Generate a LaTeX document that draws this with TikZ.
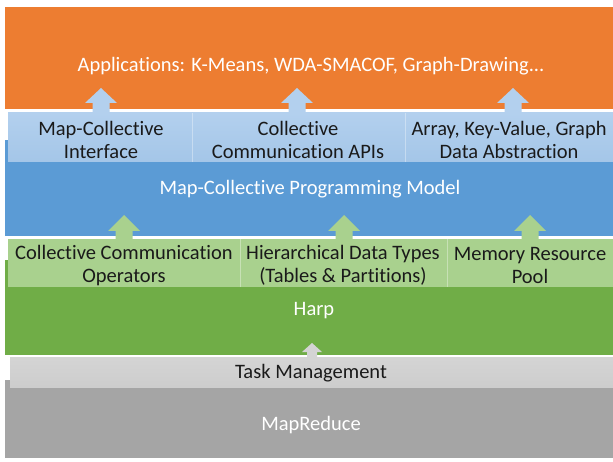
\documentclass[tikz,border=0pt]{standalone}
\usepackage{fontspec}
\setmainfont{Carlito}[Ligatures=NoCommon]
\definecolor{cOrange}{HTML}{ED7D31}
\definecolor{cBlueL}{HTML}{A4C6E8}
\definecolor{cBlueLT}{HTML}{B3D0EE}
\definecolor{cBlue}{HTML}{5B9BD5}
\definecolor{cGreenL}{HTML}{A9D18E}
\definecolor{cGreen}{HTML}{70AD47}
\definecolor{cGreyL}{HTML}{CDCDCD}
\definecolor{cGrey}{HTML}{A5A5A5}
\definecolor{cText}{HTML}{1A1A1A}
\newcommand\blockarr[7]{% x, tip y, head base y, bottom y, half head, half shaft, colour
  \fill[#7] ({#1-#5},#3) -- (#1,#2) -- ({#1+#5},#3) -- ({#1+#6},#3) -- ({#1+#6},#4)
    -- ({#1-#6},#4) -- ({#1-#6},#3) -- cycle;}
\begin{document}
\begin{tikzpicture}[x=1pt,y=-1pt,
  layer/.style={anchor=north west,inner sep=0,outer sep=0,draw=none},
  lbl/.style={font=\fontsize{20.5}{23}\selectfont,text=cText,align=center,inner sep=0},
  wlbl/.style={font=\fontsize{20.5}{23}\selectfont,text=white,align=center,inner sep=0},
  divider/.style={draw=white,opacity=0.35,line width=0.8pt}]
\useasboundingbox (0,0) rectangle (613,462);
\fill[white] (0,0) rectangle (613,462);
% layers
\node[layer,fill=cOrange,minimum width=608pt,minimum height=102pt] (apps) at (5,7) {};
\node[layer,fill=cBlue,minimum width=608pt,minimum height=96pt] (model) at (5,140) {};
\node[layer,top color=cBlueLT,bottom color=cBlueL,minimum width=605pt,minimum height=49pt] (api) at (8,113) {};
\node[layer,fill=cGreen,minimum width=608pt,minimum height=95pt] (harp) at (5,260) {};
\node[layer,fill=cGreenL,minimum width=605pt,minimum height=48pt] (ops) at (8,239) {};
\node[layer,fill=cGrey,minimum width=608pt,minimum height=78pt] (mr) at (5,380) {};
\node[layer,top color=cGreyL!85!white,bottom color=cGreyL,minimum width=603pt,minimum height=30pt] (task) at (10,357) {};
% dividers
\draw[divider] (192,113) -- (192,162);
\draw[divider] (405,113) -- (405,162);
\draw[divider] (240,239) -- (240,287);
\draw[divider] (447,239) -- (447,287);
% arrows
\blockarr{101}{88}{103}{114}{16}{8.5}{cBlueLT}
\blockarr{297}{88}{103}{114}{16}{8.5}{cBlueLT}
\blockarr{513}{88}{103}{114}{16}{8.5}{cBlueLT}
\blockarr{124}{215}{231}{240}{16}{8.5}{cGreenL}
\blockarr{344}{215}{231}{240}{16}{8.5}{cGreenL}
\blockarr{530}{215}{231}{240}{16}{8.5}{cGreenL}
\blockarr{312}{343}{352}{358}{10}{5}{cGreyL!85!white}
% texts
\node[wlbl] (tApps) at (311,66) {Applications: K-Means, WDA-SMACOF, Graph-Drawing...};
\node[lbl] (tIface) at (101,139.5) {Map-Collective\\Interface};
\node[lbl] (tApis) at (298,139.5) {Collective\\Communication APIs};
\node[lbl] (tAbs) at (509,139.5) {Array, Key-Value, Graph\\Data Abstraction};
\node[wlbl] (tModel) at (310,189) {Map-Collective Programming Model};
\node[lbl] (tOps) at (124,265.5) {Collective Communication\\Operators};
\node[lbl] (tTypes) at (343,265.5) {Hierarchical Data Types\\(Tables \& Partitions)};
\node[lbl] (tPool) at (530,265.5) {Memory Resource\\Pool};
\node[wlbl] (tHarp) at (314,311) {Harp};
\node[lbl] (tTask) at (311,373) {Task Management};
\node[wlbl] (tMR) at (311,425) {MapReduce};
\end{tikzpicture}
\end{document}
